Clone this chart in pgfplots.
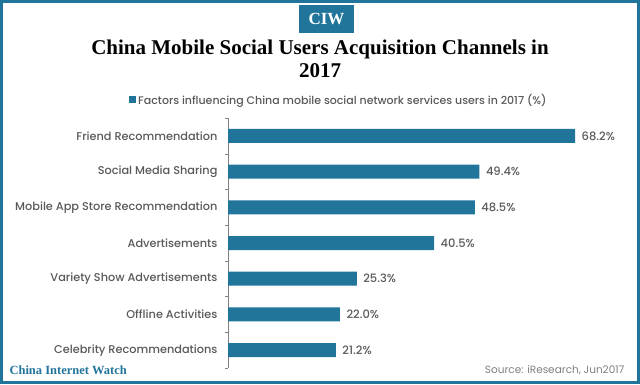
\documentclass[border=0pt]{standalone}
\usepackage{pgfplots}
\pgfplotsset{compat=1.18}
\usepackage{fontspec}
\setmainfont{Poppins}
\newfontfamily\pmed{Poppins Medium}
\newfontfamily\serif{Liberation Serif}
\definecolor{ciw}{HTML}{21759B}
\definecolor{lbl}{HTML}{595959}
\definecolor{src}{HTML}{7F7F7F}
\begin{document}
\begin{tikzpicture}[x=1pt,y=1pt]
\path[use as bounding box] (0,0) rectangle (640,384);
\draw[ciw, line width=3pt] (1.5,1.5) rectangle (638.5,382.5);
\fill[ciw] (299,351) rectangle (354,379);
\node[white, font=\serif\bfseries\fontsize{17}{17}\selectfont] at (326.5,365) {CIW};
\node[align=center, font=\serif\bfseries\fontsize{21}{23}\selectfont] at (320,325) {China Mobile Social Users Acquisition Channels in\\2017};
\node[anchor=west, ciw, font=\serif\bfseries\fontsize{12.5}{12.5}\selectfont] at (6,14) {China Internet Watch};
\node[anchor=east, src, font=\fontsize{10.5}{10.5}\selectfont] at (628,14) {Source: iResearch, Jun2017};
\begin{axis}[
  at={(228pt,16pt)}, anchor=south west,
  scale only axis, width=392pt, height=250pt,
  xbar, y dir=reverse,
  xmin=0, xmax=77, ymin=-0.5, ymax=6.5,
  axis x line=none, axis y line*=left,
  y axis line style={draw=gray},
  ytick={0,...,6},
  yticklabels={Friend Recommendation,Social Media Sharing,Mobile App Store Recommendation,Advertisements,Variety Show Advertisements,Offline Activities,Celebrity Recommendations},
  minor ytick={-0.5,0.5,...,6.5},
  major tick length=0pt, minor tick length=3pt, tick align=outside,
  every tick/.style={draw=gray},
  yticklabel style={font=\pmed\fontsize{11.3}{11.3}\selectfont, text=lbl, xshift=-7pt},
  bar width=14pt,
  point meta=x,
  nodes near coords={\pgfmathprintnumber[fixed,fixed zerofill,precision=1,assume math mode=true]{\pgfplotspointmeta}\%},
  every node near coord/.append style={font=\pmed\fontsize{11.5}{11.5}\selectfont, text=lbl, xshift=3pt},
  legend style={at={(0.283,1)}, anchor=south, yshift=10pt, draw=none, fill=none, font=\pmed\fontsize{11}{11}\selectfont, text=lbl, inner sep=0pt},
  clip=false,
]
\addplot[fill=ciw, draw=none, legend image code/.code={\fill[ciw] (0pt,-3.5pt) rectangle (7pt,3.5pt);}] coordinates {(68.2,0) (49.4,1) (48.5,2) (40.5,3) (25.3,4) (22.0,5) (21.2,6)};
\addlegendentry{Factors influencing China mobile social network services users in 2017 (\%)}
\end{axis}
\end{tikzpicture}
\end{document}
